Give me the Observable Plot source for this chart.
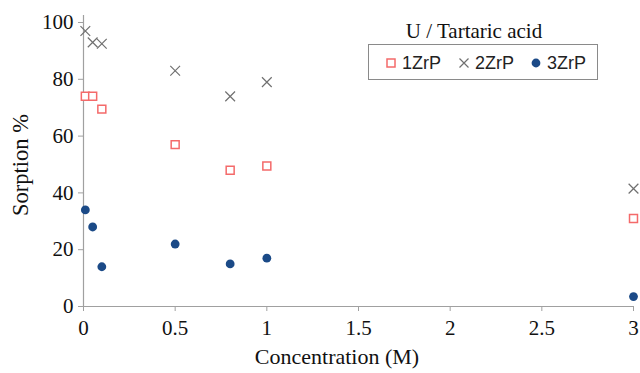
<!DOCTYPE html>
<html>
<head>
<meta charset="utf-8">
<script src="https://cdn.jsdelivr.net/npm/d3@7"></script>
<script src="https://cdn.jsdelivr.net/npm/@observablehq/plot@0.6"></script>
<style>
  body { margin: 0; background: white; }
  #wrap { position: relative; width: 640px; height: 373px; overflow: hidden; }
  #wrap svg g[aria-label$="tick label"] { font-size: 21px !important; font-family: "Liberation Serif", serif; }
  .lbl { position: absolute; font-family: "Liberation Serif", serif; color: #111; white-space: nowrap; }
  #legend { position: absolute; left: 368px; top: 44px; width: 228px; height: 34px; border: 1.5px solid #8a8a8a; background: white; font-family: "Liberation Sans", sans-serif; font-size: 18px; color: #222; }
  .item { position: absolute; top: 6px; line-height: 22px; }
</style>
</head>
<body>
<div id="wrap"></div>
<script>
const concentration = [0.01, 0.05, 0.1, 0.5, 0.8, 1, 3];
const zrp1 = [74, 74, 69.5, 57, 48, 49.5, 31];
const zrp2 = [97, 93, 92.5, 83, 74, 79, 41.5];
const zrp3 = [34, 28, 14, 22, 15, 17, 3.5];
const seriesNames = ["1ZrP", "2ZrP", "3ZrP"];
const xTicks = [0, 0.5, 1, 1.5, 2, 2.5, 3];
const yTicks = [0, 20, 40, 60, 80, 100];

const s1 = concentration.map((c, i) => ({c, v: zrp1[i]}));
const s2 = concentration.map((c, i) => ({c, v: zrp2[i]}));
const s3 = concentration.map((c, i) => ({c, v: zrp3[i]}));

const chart = Plot.plot({
  width: 640, height: 373,
  marginLeft: 83, marginRight: 7, marginTop: 22, marginBottom: 67,
  style: {fontFamily: "Liberation Serif, serif", fontSize: "21px", background: "white", color: "#111"},
  x: {domain: [0, 3]},
  y: {domain: [0, 100]},
  marks: [
    Plot.axisX(xTicks, {tickSize: 5, tickPadding: 9, stroke: "#a0a0a0", fill: "#111", fontSize: 21, tickFormat: d => String(d), label: null}),
    Plot.axisY(yTicks, {tickSize: 5, tickPadding: 5, stroke: "#a0a0a0", fill: "#111", fontSize: 21, label: null}),
    Plot.ruleX([0], {y1: 0, y2: 102.5, stroke: "#a0a0a0", strokeWidth: 1.2}),
    Plot.ruleY([0], {stroke: "#a0a0a0", strokeWidth: 1.2}),
    Plot.dot(s1, {x: "c", y: "v", symbol: "square", r: 4.5, stroke: "#f46a6a", strokeWidth: 1.5, fill: "white"}),
    Plot.dot(s2, {x: "c", y: "v", symbol: "times", r: 4.5, stroke: "#707070", strokeWidth: 1.2}),
    Plot.dot(s3, {x: "c", y: "v", symbol: "circle", r: 4.4, fill: "#1b4a87", stroke: "none"})
  ]
});
const wrap = document.getElementById("wrap");
wrap.appendChild(chart);
d3.select(chart).selectAll("text").attr("font-size", null).style("font-size", "21px");

function addLabel(text, css) {
  const d = document.createElement("div");
  d.className = "lbl";
  d.textContent = text;
  Object.assign(d.style, css);
  wrap.appendChild(d);
  return d;
}
addLabel("Concentration (M)", {left: "337px", top: "344px", fontSize: "22px", transform: "translateX(-50%)"});
addLabel("Sorption %", {left: "21px", top: "165px", fontSize: "22.5px", transform: "translate(-50%,-50%) rotate(-90deg)"});
addLabel("U / Tartaric acid", {left: "474px", top: "19px", fontSize: "21px", transform: "translateX(-50%)"});

const legend = document.createElement("div");
legend.id = "legend";
wrap.appendChild(legend);
const markers = [
  `<svg width="12" height="12" style="vertical-align:middle"><rect x="2" y="2" width="8" height="8" fill="white" stroke="#f46a6a" stroke-width="1.5"/></svg>`,
  `<svg width="12" height="12" style="vertical-align:middle"><path d="M1.5,1.5L10.5,10.5M10.5,1.5L1.5,10.5" stroke="#707070" stroke-width="1.2"/></svg>`,
  `<svg width="12" height="12" style="vertical-align:middle"><circle cx="6" cy="6" r="4.4" fill="#1b4a87"/></svg>`
];
const lefts = [16, 89, 161];
seriesNames.forEach((n, i) => {
  const it = document.createElement("div");
  it.className = "item";
  it.style.left = lefts[i] + "px";
  it.innerHTML = markers[i] + `<span style="margin-left:5px;vertical-align:middle">${n}</span>`;
  legend.appendChild(it);
});
</script>
</body>
</html>
